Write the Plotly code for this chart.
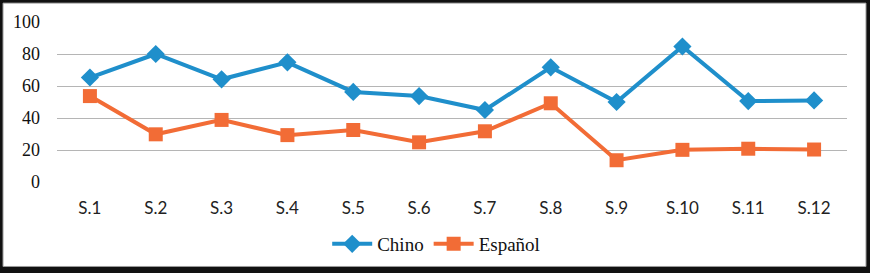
import plotly.graph_objects as go

categories = ["S.1", "S.2", "S.3", "S.4", "S.5", "S.6", "S.7", "S.8", "S.9", "S.10", "S.11", "S.12"]
chino = [65.3, 80, 64.2, 74.8, 56.3, 53.7, 45, 71.7, 50, 84.7, 50.6, 51]
espanol = [53.7, 29.8, 38.8, 29.3, 32.5, 24.8, 31.7, 49.2, 13.6, 20.1, 20.8, 20.3]
y_ticks = [0, 20, 40, 60, 80, 100]

W, H = 870, 273
ml, mr, mt, mb = 57, 23, 22, 90
pw, ph = W - ml - mr, H - mt - mb

def px_x(x):
    return (x - ml) / pw

def px_y(y):
    return (H - mb - y) / ph

fig = go.Figure()
fig.add_trace(go.Scatter(
    x=categories, y=chino, name="Chino", mode="lines+markers",
    line=dict(color="#1F8FCB", width=4),
    marker=dict(symbol="diamond", size=14, color="#1F8FCB"),
    cliponaxis=False,
))
fig.add_trace(go.Scatter(
    x=categories, y=espanol, name="Español", mode="lines+markers",
    line=dict(color="#F26C36", width=4),
    marker=dict(symbol="square", size=14, color="#F26C36"),
    cliponaxis=False,
))

fig.add_shape(type="rect", xref="paper", yref="paper",
              x0=px_x(3), x1=px_x(866), y0=px_y(268), y1=px_y(3),
              fillcolor="white", line=dict(color="#9a9a9a", width=1), layer="below")

fig.update_layout(
    width=W, height=H,
    margin=dict(l=ml, r=mr, t=mt, b=mb),
    paper_bgcolor="#111111",
    plot_bgcolor="rgba(0,0,0,0)",
    showlegend=True,
    legend=dict(orientation="h", x=0.48, xanchor="center", y=px_y(244), yanchor="middle",
                font=dict(family="Liberation Serif, Times New Roman, serif", size=19, color="#111111"),
                bgcolor="rgba(0,0,0,0)", itemwidth=40, tracegroupgap=0),
    xaxis=dict(type="category", range=[-0.5, 11.5], showgrid=False, zeroline=False,
               showline=False, ticks="", ticklabelstandoff=14,
               tickfont=dict(family="Lato", size=17, color="#222222")),
    yaxis=dict(range=[0, 100], tickvals=y_ticks, showgrid=True, gridcolor="#b5b5b5",
               gridwidth=1, zeroline=False, showline=False, ticks="", ticklabelstandoff=16,
               tickfont=dict(family="Liberation Serif, Times New Roman, serif", size=18, color="#111111")),
)

fig.write_html("out.html", config={"displayModeBar": False},
               post_script="document.body.style.margin='0';")
